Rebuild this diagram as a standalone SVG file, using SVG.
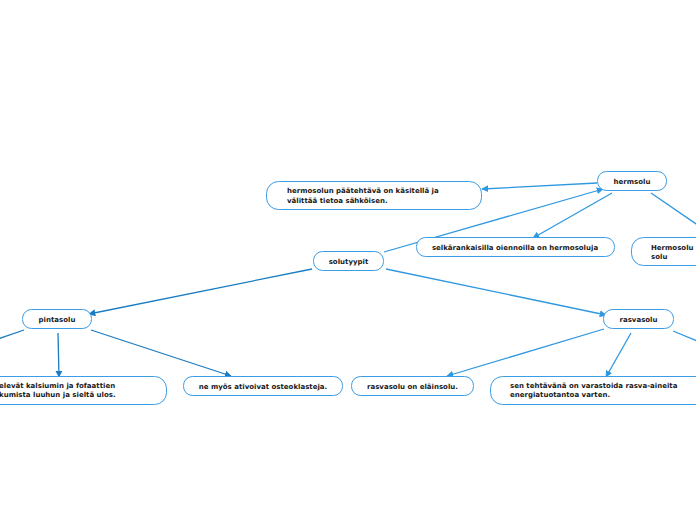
<svg xmlns="http://www.w3.org/2000/svg" width="696" height="520" viewBox="0 0 696 520">
<style>
.n{fill:#fff;stroke:#3a9de6;stroke-width:1}
.t{font-family:"DejaVu Sans",Verdana,sans-serif;font-weight:bold;font-size:7px;fill:#1a1a1a}
.c{text-anchor:middle}
.e{fill:none;stroke:#2f98e0;stroke-width:1.3}
.d{fill:none;stroke:#1a7cc2;stroke-width:1.3}
</style>
<defs>
<marker id="a" viewBox="0 0 10 10" refX="9" refY="5" markerWidth="7" markerHeight="7" orient="auto" markerUnits="userSpaceOnUse"><path d="M0,0L10,5L0,10z" fill="#2f98e0"/></marker>
<marker id="b" viewBox="0 0 10 10" refX="9" refY="5" markerWidth="7" markerHeight="7" orient="auto" markerUnits="userSpaceOnUse"><path d="M0,0L10,5L0,10z" fill="#1a7cc2"/></marker>
</defs>
<rect width="696" height="520" fill="#fff"/>
<g id="connectors">
<line class="e" x1="597" y1="183" x2="482" y2="189" marker-end="url(#a)"/>
<line class="e" x1="384" y1="252" x2="603" y2="189" marker-end="url(#a)"/>
<line class="e" x1="612" y1="193" x2="533" y2="238" marker-end="url(#a)"/>
<line class="e" x1="651" y1="193" x2="702" y2="228"/>
<line class="d" x1="312" y1="269" x2="89" y2="314" marker-end="url(#b)"/>
<line class="e" x1="386" y1="269" x2="606" y2="315" marker-end="url(#a)"/>
<line class="d" x1="24" y1="330" x2="-2" y2="339"/>
<line class="d" x1="58" y1="333" x2="59" y2="377" marker-end="url(#b)"/>
<line class="d" x1="91" y1="330" x2="231" y2="376" marker-end="url(#b)"/>
<line class="e" x1="604" y1="329" x2="447" y2="376" marker-end="url(#a)"/>
<line class="e" x1="631" y1="333" x2="606" y2="377" marker-end="url(#a)"/>
<line class="e" x1="673" y1="331" x2="702" y2="343"/>
</g>
<g id="hermsolu"><rect class="n" x="597.5" y="171.5" width="69" height="19" rx="9"/><text class="t c" x="632" y="184">hermsolu</text></g>
<g id="paatehtava"><rect class="n" x="266.5" y="181.5" width="215" height="28" rx="12"/><text class="t" x="287" y="193">hermosolun päätehtävä on käsitellä ja</text><text class="t" x="287" y="203">välittää tietoa sähköisen.</text></g>
<g id="selkarankaisilla"><rect class="n" x="416.5" y="237.5" width="198" height="19" rx="9"/><text class="t c" x="515" y="250">selkärankaisilla oiennoilla on hermosoluja</text></g>
<g id="hermosolusolu"><rect class="n" x="631.5" y="237.5" width="80" height="28" rx="12"/><text class="t" x="651" y="250">Hermosolu</text><text class="t" x="651" y="259">solu</text></g>
<g id="solutyypit"><rect class="n" x="313.5" y="251.5" width="70" height="19" rx="9"/><text class="t c" x="348.5" y="264">solutyypit</text></g>
<g id="pintasolu"><rect class="n" x="22.5" y="309.5" width="69" height="19" rx="9"/><text class="t c" x="57" y="322">pintasolu</text></g>
<g id="rasvasolu"><rect class="n" x="603.5" y="309.5" width="70" height="19" rx="9"/><text class="t c" x="638.5" y="322">rasvasolu</text></g>
<g id="kalsium"><rect class="n" x="-30.5" y="376.5" width="197" height="28" rx="12"/><text class="t" x="-1" y="388">elevät kalsiumin ja fofaattien</text><text class="t" x="-1" y="397">kumista luuhun ja sieltä ulos.</text></g>
<g id="osteoklasteja"><rect class="n" x="183.5" y="376.5" width="159" height="19" rx="9"/><text class="t c" x="263" y="389">ne myös ativoivat osteoklasteja.</text></g>
<g id="elainsolu"><rect class="n" x="351.5" y="376.5" width="122" height="19" rx="9"/><text class="t c" x="412.5" y="389">rasvasolu on eläinsolu.</text></g>
<g id="tehtava"><rect class="n" x="490.5" y="376.5" width="220" height="28" rx="12"/><text class="t" x="510" y="388">sen tehtävänä on varastoida rasva-aineita</text><text class="t" x="510" y="397">energiatuotantoa varten.</text></g>
</svg>
